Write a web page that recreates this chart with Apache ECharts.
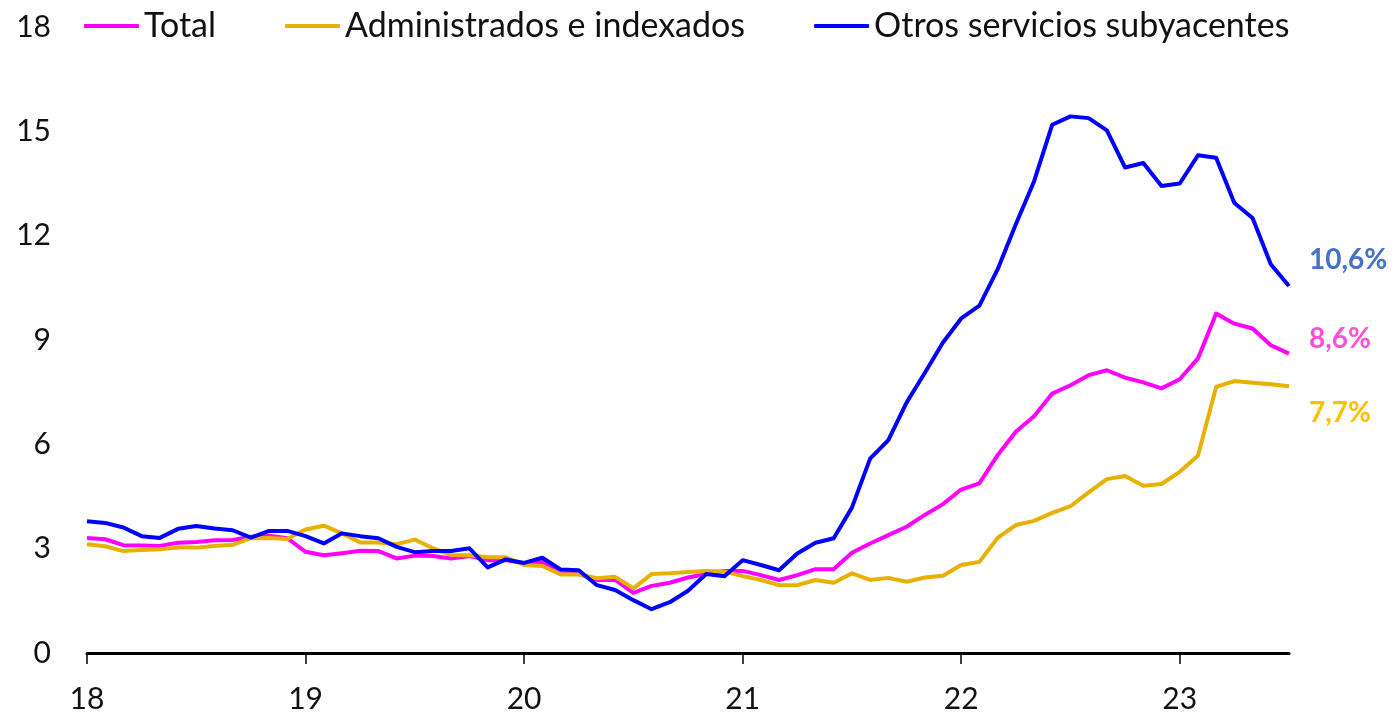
<!DOCTYPE html>
<html>
<head>
<meta charset="utf-8">
<script src="https://cdn.jsdelivr.net/npm/echarts@6/dist/echarts.min.js"></script>
<style>
html,body{margin:0;padding:0;background:#fff;}
#c{width:1394px;height:718px;}
</style>
</head>
<body>
<div id="c"></div>
<script>
// Monthly data, Jan 2018 .. Jul 2023
const startYear = 18;
const xTicks = [18, 19, 20, 21, 22, 23];
const yTicks = [0, 3, 6, 9, 12, 15, 18];
const seriesNames = ['Total', 'Administrados e indexados', 'Otros servicios subyacentes'];
const total = [3.31,3.27,3.10,3.09,3.08,3.17,3.19,3.24,3.25,3.34,3.37,3.30,
  2.91,2.81,2.87,2.94,2.93,2.72,2.80,2.79,2.72,2.79,2.67,2.67,
  2.58,2.62,2.29,2.27,2.10,2.10,1.73,1.93,2.02,2.17,2.27,2.36,
  2.36,2.24,2.10,2.24,2.41,2.41,2.88,3.15,3.39,3.63,3.97,4.28,
  4.70,4.88,5.69,6.36,6.81,7.46,7.70,7.99,8.13,7.92,7.78,7.61,
  7.87,8.47,9.76,9.47,9.33,8.85,8.61];
const administrados = [3.13,3.07,2.93,2.96,2.98,3.03,3.03,3.08,3.11,3.30,3.31,3.28,
  3.55,3.66,3.44,3.18,3.18,3.13,3.26,3.01,2.82,2.81,2.75,2.75,
  2.53,2.50,2.26,2.26,2.15,2.19,1.86,2.27,2.29,2.33,2.36,2.34,
  2.21,2.10,1.95,1.95,2.10,2.02,2.29,2.10,2.16,2.05,2.17,2.22,
  2.53,2.62,3.31,3.68,3.80,4.03,4.22,4.62,5.00,5.09,4.81,4.86,
  5.21,5.67,7.65,7.82,7.77,7.73,7.67];
const otros = [3.79,3.74,3.61,3.36,3.31,3.57,3.65,3.58,3.53,3.32,3.51,3.51,
  3.36,3.15,3.44,3.36,3.30,3.05,2.90,2.93,2.93,3.01,2.46,2.69,
  2.59,2.74,2.40,2.38,1.95,1.81,1.52,1.26,1.46,1.79,2.27,2.21,
  2.67,2.53,2.38,2.86,3.17,3.30,4.18,5.59,6.12,7.20,8.05,8.93,
  9.62,9.99,11.03,12.33,13.56,15.19,15.43,15.38,15.03,13.96,14.09,13.43,
  13.50,14.31,14.24,12.94,12.51,11.18,10.55];
const endLabels = ['8,6%', '7,7%', '10,6%'];

const lineColors = ['#FF00FF', '#E8B000', '#0000FF'];
const labelColors = ['#FF50D5', '#FFC000', '#4472C4'];
const labelOffsets = [[0, -15], [0, 27], [0, -26]];
const FONT = 'Lato, "Noto Sans", sans-serif';

function toPairs(arr) { return arr.map((v, i) => [startYear + i / 12, v]); }
const allData = [total, administrados, otros];
const xMax = startYear + (total.length - 1) / 12;

const chart = echarts.init(document.getElementById('c'), null, {renderer: 'canvas'});
chart.setOption({
  animation: false,
  backgroundColor: '#fff',
  textStyle: {fontFamily: FONT},
  grid: {left: 87, right: 105, top: 27, bottom: 65, containLabel: false},
  legend: {
    left: 79, top: 4,
    itemWidth: 55, itemHeight: 4, itemGap: 69,
    icon: 'roundRect',
    textStyle: {fontSize: 34, color: '#111', fontFamily: FONT},
    data: seriesNames
  },
  xAxis: {
    type: 'value', min: startYear, max: xMax,
    axisLine: {show: true, lineStyle: {color: '#000', width: 3}},
    axisTick: {show: true, length: 11, lineStyle: {color: '#000', width: 1.5}, customValues: xTicks},
    axisLabel: {show: true, customValues: xTicks, fontSize: 30, color: '#111', margin: 31, fontFamily: FONT,
      formatter: v => String(Math.round(v))},
    splitLine: {show: false}
  },
  yAxis: {
    type: 'value', min: 0, max: 18, interval: 3,
    axisLine: {show: false}, axisTick: {show: false}, splitLine: {show: false},
    axisLabel: {fontSize: 30, color: '#111', margin: 36, fontFamily: FONT,
      formatter: v => yTicks.includes(v) ? String(v) : ''}
  },
  series: seriesNames.map((name, k) => ({
    name: name, type: 'line', data: toPairs(allData[k]),
    showSymbol: false, symbol: 'none',
    lineStyle: {color: lineColors[k], width: 4, cap: 'butt', join: 'round'},
    itemStyle: {color: lineColors[k]},
    z: 2 + k,
    endLabel: {
      show: true, formatter: () => endLabels[k], distance: 20, offset: labelOffsets[k],
      fontSize: 28, fontWeight: 'bold', color: labelColors[k], fontFamily: FONT
    }
  }))
});
</script>
</body>
</html>
